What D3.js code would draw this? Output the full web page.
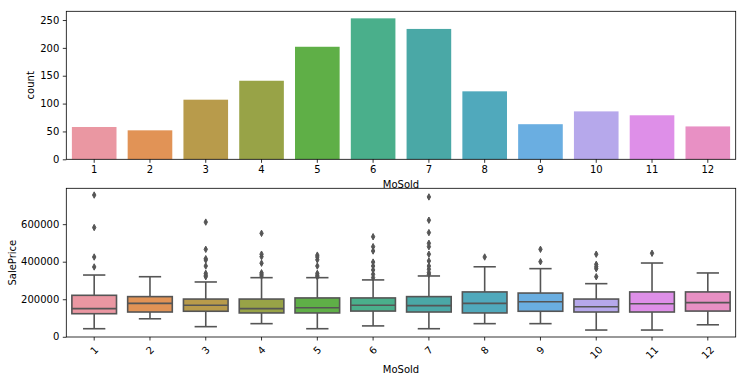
<!DOCTYPE html>
<html><head><meta charset="utf-8">
<script src="https://cdn.jsdelivr.net/npm/d3@7"></script>
<style>body{margin:0;background:#fff}text{font-family:"DejaVu Sans",sans-serif;font-size:10px;fill:#000}</style>
</head><body><svg id="c" width="746" height="381"></svg>
<script>
const months = ["1","2","3","4","5","6","7","8","9","10","11","12"];
const counts = [58,52,107,141,202,253,234,122,63,86,79,59];
const colors = ["#ea97a2","#e19356","#b89b4b","#98a347","#5faf47","#4aaf8b","#4aa8a6","#50a9bc","#6aaee1","#b6a8eb","#de8fe8","#e890c4"];
const whiskerLow  = [43000,96000,54000,70000,43000,58000,43000,70000,70000,36000,36000,64000];
const q1          = [123000,132000,136000,127000,127000,137000,132000,127000,136000,132000,132000,137000];
const medians     = [150000,178000,168000,150000,155000,168000,166000,178000,187000,160000,176000,182000];
const q3          = [221000,214000,201000,201000,207000,207000,214000,239000,233000,201000,239000,239000];
const whiskerHigh = [329000,320000,292000,315000,315000,303000,324000,373000,363000,283000,393000,340000];
const outliers = [
  [372000,425000,582000,755000],
  [],
  [320000,328000,338000,377000,409000,416000,466000,611000],
  [324000,333000,341000,392000,427000,440000,551000],
  [320000,328000,338000,377000,410000,425000,435000],
  [315000,333000,356000,377000,398000,457000,480000,533000],
  [333000,342000,360000,377000,404000,440000,480000,498000,555000,621000,745000],
  [425000],
  [400000,466000],
  [320000,363000,373000,386000,440000],
  [445000],
  []
];
const countTicks = [0,50,100,150,200,250];
const priceTicks = [0,200000,400000,600000];

const svg = d3.select("#c");
const L = 66.3, R = 735.7;
const lineGray = "#555";

// ---------- top: countplot ----------
const T1 = 11.3, B1 = 159.3;
const x1 = d3.scaleBand().domain(months).range([L, R]).paddingInner(0.2).paddingOuter(0.1);
const y1 = d3.scaleLinear().domain([0, 253*1.05]).range([B1, T1]);
const g1 = svg.append("g");
g1.selectAll("rect").data(months).join("rect")
  .attr("x", d => x1(d)).attr("width", x1.bandwidth())
  .attr("y", (d,i) => y1(counts[i])).attr("height", (d,i) => B1 - y1(counts[i]))
  .attr("fill", (d,i) => colors[i]);
const ax1 = g1.append("g").attr("transform", `translate(0,${B1})`)
  .call(d3.axisBottom(x1).tickSize(3.5).tickPadding(3.5));
const ay1 = g1.append("g").attr("transform", `translate(${L},0)`)
  .call(d3.axisLeft(y1).tickValues(countTicks).tickSize(3.5).tickPadding(3.5));
[ax1, ay1].forEach(a => { a.select(".domain").remove(); a.selectAll("text").attr("font-family", null).attr("font-size", null); a.selectAll("line").attr("stroke","#000").attr("stroke-width",0.8); });
g1.append("rect").attr("x", L).attr("y", T1).attr("width", R-L).attr("height", B1-T1)
  .attr("fill","none").attr("stroke","#000").attr("stroke-width",0.8);
g1.append("text").attr("x", (L+R)/2).attr("y", 187.5).attr("text-anchor","middle").text("MoSold");
g1.append("text").attr("transform", `translate(34,${(T1+B1)/2}) rotate(-90)`).attr("text-anchor","middle").text("count");

// ---------- bottom: boxplot ----------
const T2 = 188.3, B2 = 337;
const x2 = d3.scaleBand().domain(months).range([L, R]).paddingInner(0.2).paddingOuter(0.1);
const pmin = 34900, pmax = 755000, pad = (pmax-pmin)*0.05;
const y2 = d3.scaleLinear().domain([pmin-pad, pmax+pad]).range([B2, T2]);
const g2 = svg.append("g");
months.forEach((m,i) => {
  const x0 = x2(m), w = x2.bandwidth(), cx = x0 + w/2;
  const g = g2.append("g");
  g.append("line").attr("x1",cx).attr("x2",cx).attr("y1",y2(whiskerLow[i])).attr("y2",y2(q1[i]))
    .attr("stroke",lineGray).attr("stroke-width",1.6);
  g.append("line").attr("x1",cx).attr("x2",cx).attr("y1",y2(q3[i])).attr("y2",y2(whiskerHigh[i]))
    .attr("stroke",lineGray).attr("stroke-width",1.6);
  [whiskerLow[i], whiskerHigh[i]].forEach(v => g.append("line")
    .attr("x1",cx-w/4).attr("x2",cx+w/4).attr("y1",y2(v)).attr("y2",y2(v))
    .attr("stroke",lineGray).attr("stroke-width",1.6));
  g.append("rect").attr("x",x0).attr("width",w).attr("y",y2(q3[i])).attr("height",y2(q1[i])-y2(q3[i]))
    .attr("fill",colors[i]).attr("stroke",lineGray).attr("stroke-width",1.6);
  g.append("line").attr("x1",x0).attr("x2",x0+w).attr("y1",y2(medians[i])).attr("y2",y2(medians[i]))
    .attr("stroke",lineGray).attr("stroke-width",1.6);
  g.selectAll("path").data(outliers[i]).join("path")
    .attr("d", v => { const y = y2(v); return `M${cx},${y-3.2}L${cx+1.7},${y}L${cx},${y+3.2}L${cx-1.7},${y}Z`; })
    .attr("fill",lineGray).attr("stroke",lineGray).attr("stroke-width",1);
});
const ax2 = g2.append("g").attr("transform", `translate(0,${B2})`)
  .call(d3.axisBottom(x2).tickSize(3.5).tickPadding(3.5));
const ay2 = g2.append("g").attr("transform", `translate(${L},0)`)
  .call(d3.axisLeft(y2).tickValues(priceTicks).tickFormat(d3.format("d")).tickSize(3.5).tickPadding(3.5));
[ax2, ay2].forEach(a => { a.select(".domain").remove(); a.selectAll("text").attr("font-family", null).attr("font-size", null); a.selectAll("line").attr("stroke","#000").attr("stroke-width",0.8); });
// rotate bottom tick labels 45deg around their centre
ax2.selectAll(".tick text").each(function(){
  const t = d3.select(this);
  const bb = this.getBBox();
  const w = bb.width, h = 11.6;
  const rh = (w + h) * Math.SQRT1_2;
  const cy = 7 + rh/2;
  t.attr("y", null).attr("dy", null).attr("dominant-baseline","central")
   .attr("transform", `translate(0,${cy}) rotate(-45)`);
});
g2.append("rect").attr("x", L).attr("y", T2).attr("width", R-L).attr("height", B2-T2)
  .attr("fill","none").attr("stroke","#000").attr("stroke-width",0.8);
g2.append("text").attr("x", (L+R)/2).attr("y", 372.5).attr("text-anchor","middle").text("MoSold");
g2.append("text").attr("transform", `translate(15.5,${(T2+B2)/2}) rotate(-90)`).attr("text-anchor","middle").text("SalePrice");
</script></body></html>
